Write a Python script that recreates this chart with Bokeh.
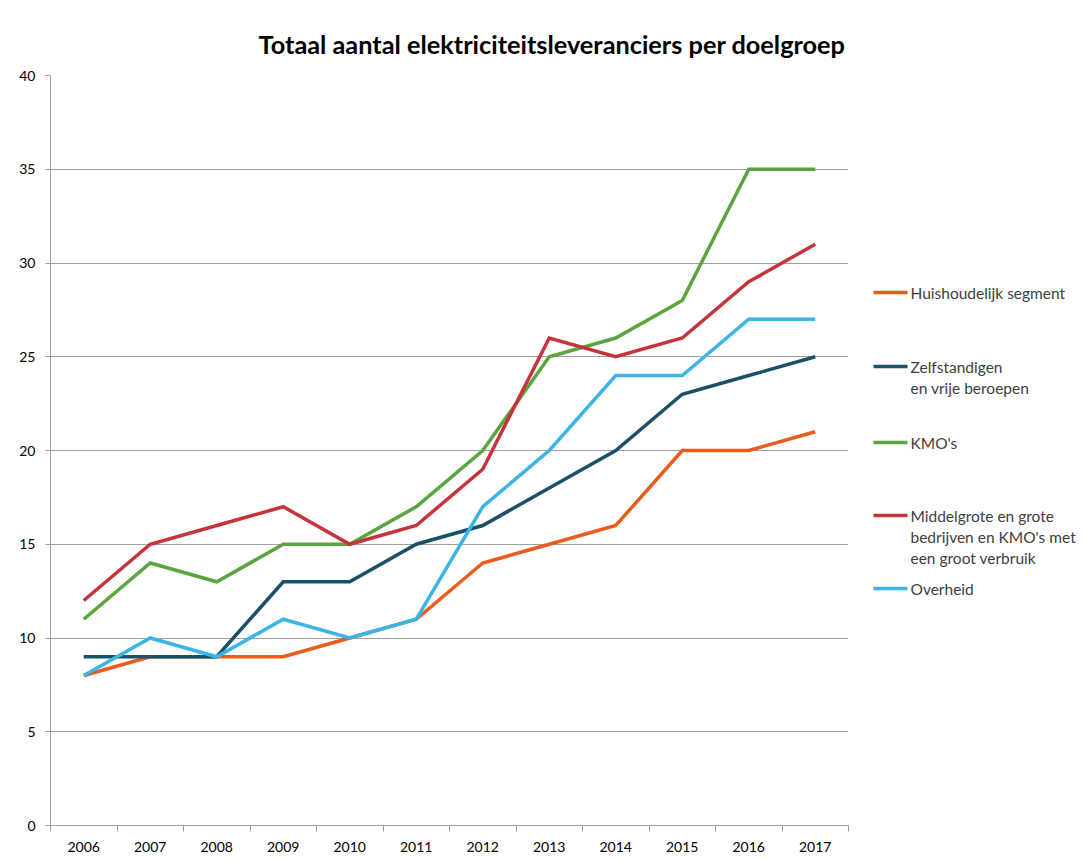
from bokeh.plotting import figure
from bokeh.layouts import row
from bokeh.models import Range1d, FixedTicker
from bokeh.core.properties import value
from bokeh.embed import file_html
from bokeh.resources import INLINE

years = ["2006", "2007", "2008", "2009", "2010", "2011",
         "2012", "2013", "2014", "2015", "2016", "2017"]

huishoudelijk = [8, 9, 9, 9, 10, 11, 14, 15, 16, 20, 20, 21]
zelfstandigen = [9, 9, 9, 13, 13, 15, 16, 18, 20, 23, 24, 25]
kmos = [11, 14, 13, 15, 15, 17, 20, 25, 26, 28, 35, 35]
middelgrote = [12, 15, 16, 17, 15, 16, 19, 26, 25, 26, 29, 31]
overheid = [8, 10, 9, 11, 10, 11, 17, 20, 24, 24, 27, 27]

series_names = [
    ["Huishoudelijk segment"],
    ["Zelfstandigen", "en vrije beroepen"],
    ["KMO's"],
    ["Middelgrote en grote", "bedrijven en KMO's met", "een groot verbruik"],
    ["Overheid"],
]
series_values = [huishoudelijk, zelfstandigen, kmos, middelgrote, overheid]
colors = ["#EA5B1C", "#1A5068", "#5AA53F", "#C8323A", "#3BB4E8"]

FONT = "Lato"
H = 858
W1 = 858
W2 = 230
FL, FR, FT, FB = 50, 848, 75, 825   # frame in page px

p = figure(width=W1, height=H, output_backend="svg", toolbar_location=None,
           x_range=Range1d(0.5, len(years) + 0.5), y_range=Range1d(0, 40),
           min_border_left=FL, min_border_right=W1 - FR,
           min_border_top=FT, min_border_bottom=H - FB,
           title="Totaal aantal elektriciteitsleveranciers per doelgroep")
p.outline_line_color = None
p.background_fill_color = "white"
p.border_fill_color = "white"

p.title.align = "right"
p.title.offset = 3
p.title.standoff = 34
p.title.text_font = FONT
p.title.text_font_size = "25.3px"
p.title.text_font_style = "bold"
p.title.text_color = "#000000"

xs = list(range(1, len(years) + 1))

p.xaxis.ticker = FixedTicker(ticks=xs, minor_ticks=[i + 0.5 for i in range(0, len(years) + 1)])
p.xaxis.major_label_overrides = {i + 1: y for i, y in enumerate(years)}
p.xaxis.major_tick_out = 0
p.xaxis.major_tick_in = 0
p.xaxis.minor_tick_out = 6
p.xaxis.minor_tick_in = 0
p.xaxis.minor_tick_line_color = "#A0A0A0"
p.xaxis.axis_line_color = "#A0A0A0"
p.xaxis.major_label_standoff = 10
p.xaxis.major_label_text_font = FONT
p.xaxis.major_label_text_font_size = "14px"
p.xaxis.major_label_text_color = "#000000"

p.yaxis.ticker = FixedTicker(ticks=list(range(0, 41, 5)))
p.yaxis.major_tick_out = 5
p.yaxis.major_tick_in = 0
p.yaxis.minor_tick_line_color = None
p.yaxis.major_tick_line_color = "#A0A0A0"
p.yaxis.axis_line_color = "#A0A0A0"
p.yaxis.major_label_standoff = 10
p.yaxis.major_label_text_font = FONT
p.yaxis.major_label_text_font_size = "14px"
p.yaxis.major_label_text_color = "#000000"

p.xgrid.grid_line_color = None
p.ygrid.ticker = FixedTicker(ticks=list(range(5, 41, 5)))
p.ygrid.grid_line_color = "#A0A0A0"
p.ygrid.grid_line_width = 1

for vals, col in zip(series_values, colors):
    p.line(xs, vals, line_color=col, line_width=3.5, line_join="miter")

# legend panel: frame aligned with main frame; coordinates equal to page pixels
lg = figure(width=W2, height=H, output_backend="svg", toolbar_location=None,
            x_range=Range1d(W1, W1 + W2), y_range=Range1d(FB, FT),
            x_axis_type=None, y_axis_type=None,
            min_border_left=0, min_border_right=0,
            min_border_top=FT, min_border_bottom=H - FB)
lg.outline_line_color = None
lg.xgrid.visible = False
lg.ygrid.visible = False
lg.background_fill_color = "white"
lg.border_fill_color = "white"

first_line_y = [292, 366, 442, 515, 588]
line_gap = 21
sw_x0, sw_x1, txt_x = 873, 907, 910
seg_x0, seg_x1, seg_y = [], [], []
txt_xs, txt_ys, txt_t = [], [], []
for names, y0 in zip(series_names, first_line_y):
    seg_x0.append(sw_x0)
    seg_x1.append(sw_x1)
    seg_y.append(y0)
    for k, t in enumerate(names):
        txt_xs.append(txt_x)
        txt_ys.append(y0 + k * line_gap)
        txt_t.append(t)

lg.segment(x0=seg_x0, x1=seg_x1, y0=seg_y, y1=seg_y, line_color=colors, line_width=3.5)
lg.text(x=txt_xs, y=txt_ys, text=txt_t, text_font=value(FONT), text_font_size="15.5px",
        text_align="left", text_baseline="middle", text_color="#404040")

layout = row(p, lg, spacing=0)
open("out.html", "w").write(file_html(layout, INLINE))
